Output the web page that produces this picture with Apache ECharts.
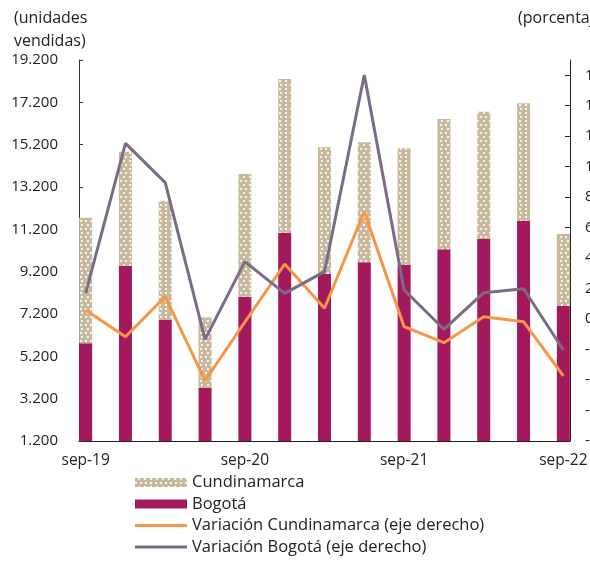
<!DOCTYPE html>
<html>
<head>
<meta charset="utf-8">
<script src="https://cdn.jsdelivr.net/npm/echarts@6/dist/echarts.min.js"></script>
<style>
  html, body { margin: 0; padding: 0; background: #fff; }
  #chart { width: 590px; height: 561px; }
</style>
</head>
<body>
<div id="chart"></div>
<script>
// trimestres (sep-19 a sep-22)
const quarters = ['sep-19', 'dic-19', 'mar-20', 'jun-20', 'sep-20', 'dic-20', 'mar-21', 'jun-21', 'sep-21', 'dic-21', 'mar-22', 'jun-22', 'sep-22'];

// unidades vendidas
const bogota = [5815, 9467, 6916, 3718, 8017, 11040, 9089, 9642, 9514, 10256, 10742, 11593, 7577];
const cundinamarca = [5934, 5400, 5636, 3326, 5796, 7261, 5985, 5669, 5513, 6155, 6014, 5560, 3402];

// variacion anual (porcentaje, eje derecho)
const varCundinamarca = [6, -11.6, 14.7, -40.4, -1.9, 36.1, 7.1, 70.5, -5, -15.5, 1.6, -1.7, -37.3];
const varBogota = [16.9, 115.3, 89.5, -13.3, 37.7, 16.9, 31.1, 160.2, 19.1, -6.7, 17.3, 19.9, -20.3];

// ticks eje derecho
const rightTicks = [-80, -60, -40, -20, 0, 20, 40, 60, 80, 100, 120, 140, 160];

// eje mensual: cada trimestre ocupa un mes, con dos meses vacios entre ellos
const months = [];
const toMonthly = (arr) => {
  const out = [];
  arr.forEach((v, i) => {
    out.push(v);
    if (i < arr.length - 1) out.push(null, null);
  });
  return out;
};
quarters.forEach((q, i) => {
  months.push(q);
  if (i < quarters.length - 1) months.push('', '');
});

const font = '"Open Sans", "Noto Sans", sans-serif';
const tan = '#c9b99c';
const magenta = '#a3195b';
const txt = '#222';
// icono de linea delgada para la leyenda
const lineIcon = 'path://M0,0 M0,3 L52,3 L52,6 L0,6 Z M52,9';

const chart = echarts.init(document.getElementById('chart'));

const option = {
  animation: false,
  textStyle: { fontFamily: font },
  title: [
    {
      text: '(unidades\nvendidas)',
      left: 9,
      top: 2,
      textStyle: { fontSize: 16, fontWeight: 'normal', color: txt, lineHeight: 23, fontFamily: font }
    },
    {
      text: '(porcentaje)',
      left: 513,
      top: 2,
      textStyle: { fontSize: 16, fontWeight: 'normal', color: txt, lineHeight: 23, fontFamily: font }
    }
  ],
  legend: {
    orient: 'vertical',
    left: 135,
    top: 474,
    padding: 0,
    itemWidth: 52,
    itemHeight: 9,
    itemGap: 4.5,
    textStyle: { fontSize: 16.5, color: txt },
    data: [
      { name: 'Cundinamarca', icon: 'rect' },
      { name: 'Bogotá', icon: 'rect' },
      { name: 'Variación Cundinamarca (eje derecho)', icon: lineIcon },
      { name: 'Variación Bogotá (eje derecho)', icon: lineIcon }
    ]
  },
  grid: {
    left: 79,
    right: 20,
    top: 60,
    bottom: 120,
    outerBoundsMode: 'none'
  },
  xAxis: {
    type: 'category',
    data: months,
    boundaryGap: true,
    axisLine: { onZero: false, lineStyle: { color: txt, width: 1 } },
    axisTick: { inside: true, length: 4, interval: 11, lineStyle: { color: txt } },
    axisLabel: { interval: 11, color: txt, fontSize: 15.5, margin: 12 }
  },
  yAxis: [
    {
      type: 'value',
      min: 1200,
      max: 19200,
      interval: 2000,
      axisLine: { show: true, lineStyle: { color: '#333' } },
      axisTick: { show: true, inside: true, length: 4, lineStyle: { color: '#333' } },
      splitLine: { show: false },
      axisLabel: {
        color: txt,
        fontSize: 15,
        margin: 21,
        formatter: (v) => String(v).replace(/\B(?=(\d{3})+(?!\d))/g, '.')
      }
    },
    {
      type: 'value',
      min: -80,
      max: 170,
      interval: 20,
      position: 'right',
      axisLine: { show: true, lineStyle: { color: txt } },
      axisTick: { show: true, inside: true, length: 5, customValues: rightTicks, lineStyle: { color: txt } },
      splitLine: { show: false },
      axisLabel: { customValues: rightTicks, color: txt, fontSize: 15, margin: 15, align: 'left' }
    }
  ],
  series: [
    {
      name: 'Bogotá',
      type: 'bar',
      stack: 'ventas',
      barWidth: 13,
      data: toMonthly(bogota),
      itemStyle: { color: magenta }
    },
    {
      name: 'Cundinamarca',
      type: 'bar',
      stack: 'ventas',
      barWidth: 13,
      data: toMonthly(cundinamarca),
      itemStyle: {
        color: tan,
        decal: {
          symbol: 'rect',
          symbolSize: 1,
          color: 'rgba(255,255,255,0.85)',
          dashArrayX: [[2, 3], [0, 2.5, 2, 0.5]],
          dashArrayY: [2, 2],
          rotation: 0
        }
      }
    },
    {
      name: 'Variación Cundinamarca (eje derecho)',
      type: 'line',
      yAxisIndex: 1,
      data: toMonthly(varCundinamarca),
      connectNulls: true,
      symbol: 'none',
      lineStyle: { color: '#f79646', width: 3 },
      itemStyle: { color: '#f79646' }
    },
    {
      name: 'Variación Bogotá (eje derecho)',
      type: 'line',
      yAxisIndex: 1,
      data: toMonthly(varBogota),
      connectNulls: true,
      symbol: 'none',
      lineStyle: { color: '#786c86', width: 3 },
      itemStyle: { color: '#786c86' }
    }
  ]
};

chart.setOption(option);
</script>
</body>
</html>
